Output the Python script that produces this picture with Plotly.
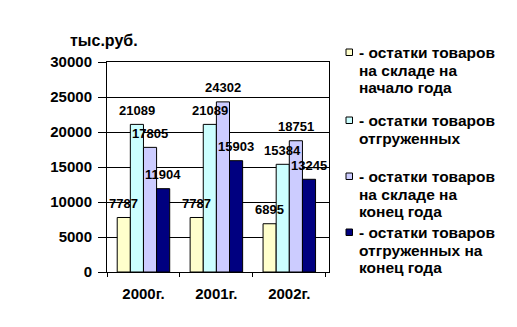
import plotly.graph_objects as go

years = ["2000г.", "2001г.", "2002г."]
start_stock = [7787, 7787, 6895]
shipped = [21089, 21089, 15384]
end_stock = [17805, 24302, 18751]
shipped_end = [11904, 15903, 13245]

legend_lines = [
    ["- остатки товаров", "на складе на", "начало года"],
    ["- остатки товаров", "отгруженных"],
    ["- остатки товаров", "на складе на", "конец года"],
    ["- остатки товаров", "отгруженных на", "конец года"],
]
series = [start_stock, shipped, end_stock, shipped_end]
colors = ["#FFFFCC", "#CCFFFF", "#CCCCFF", "#000080"]

FONT = "Liberation Sans, Arial, sans-serif"

# plot-area geometry in pixels
L, R, T, B = 107, 329, 62, 272
W, H = 517, 327


def px(x):
    return (x - L) / (R - L)


def py(y):
    return (B - y) / (B - T)


fig = go.Figure()
for lines, vals, col in zip(legend_lines, series, colors):
    fig.add_trace(go.Bar(
        x=years, y=vals, name=" ".join(lines),
        marker=dict(color=col, line=dict(color="black", width=1)),
    ))

bargap = 0.28
bw = (1 - bargap) / 4
for j, vals in enumerate(series):
    for i, v in enumerate(vals):
        fig.add_annotation(
            x=i + (j - 1.5) * bw, y=v, xref="x", yref="y",
            text=f"<b>{v}</b>", showarrow=False, yshift=14,
            font=dict(family=FONT, size=13, color="black"),
        )

fig.add_annotation(
    x=px(103.5), y=py(41), xref="paper", yref="paper", text="<b>тыс.руб.</b>",
    showarrow=False, xanchor="center", yanchor="middle",
    font=dict(family=FONT, size=16, color="black"),
)

# legend (drawn manually to match line spacing)
item_tops = [52.5, 120.5, 176.5, 232.5]
line_step = 17.6
for lines, col, y0 in zip(legend_lines, colors, item_tops):
    fig.add_shape(
        type="rect", xref="paper", yref="paper",
        x0=px(346), x1=px(352.5), y0=py(y0 - 3.5), y1=py(y0 + 3),
        fillcolor=col, line=dict(color="black", width=1),
    )
    for k, t in enumerate(lines):
        fig.add_annotation(
            x=px(356.5), y=py(y0 + k * line_step), xref="paper", yref="paper",
            text=f"<b>{t}</b>", showarrow=False, xanchor="left", yanchor="middle",
            font=dict(family=FONT, size=15.5, color="black"),
        )

fig.update_layout(
    width=W, height=H,
    margin=dict(l=L, r=W - R, t=T, b=H - B),
    paper_bgcolor="white", plot_bgcolor="white",
    barmode="group", bargap=bargap, bargroupgap=0,
    font=dict(family=FONT, color="black"),
    showlegend=False,
)
fig.update_xaxes(
    showline=True, linecolor="black", linewidth=1, mirror=True,
    ticks="outside", tickson="boundaries", ticklen=4, tickcolor="black",
    tickfont=dict(family=FONT, size=15, weight="bold"),
    ticklabelstandoff=8,
)
fig.update_yaxes(
    range=[0, 30000], dtick=5000, tickformat="d",
    showgrid=True, gridcolor="black", gridwidth=1,
    showline=True, linecolor="black", linewidth=1, mirror=True,
    ticks="outside", ticklen=8, tickcolor="black",
    tickfont=dict(family=FONT, size=15, weight="bold"),
    ticklabelstandoff=3, zeroline=False,
)

fig.write_html("out.html")
